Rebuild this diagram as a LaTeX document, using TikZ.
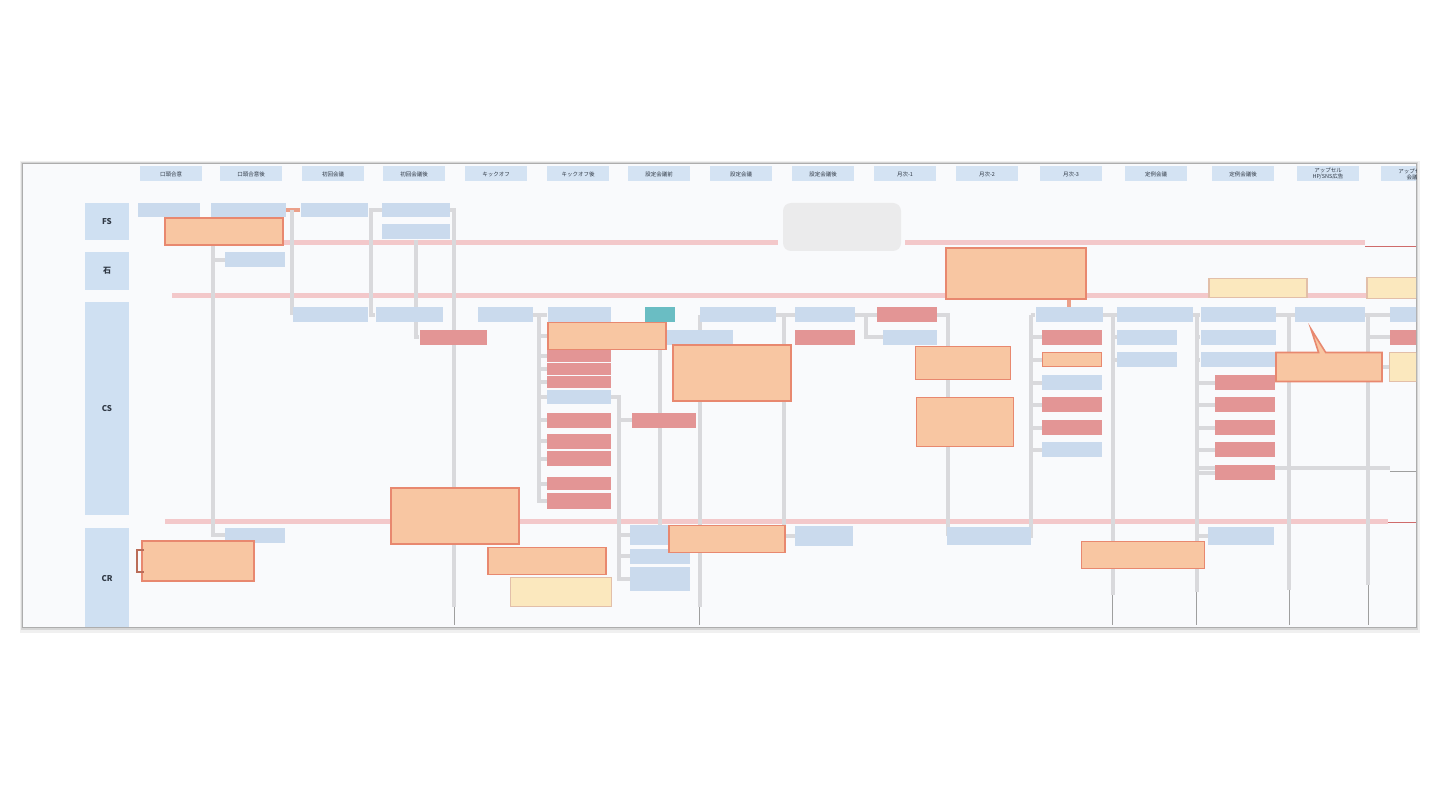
\documentclass[tikz,border=0pt]{standalone}
\usepackage{fontspec}
\usepackage{tikz}
\usetikzlibrary{calc, shapes.callouts}
\newfontfamily\jpfont{Noto Sans CJK JP}
\definecolor{pagebg}{HTML}{F9FAFC}
\definecolor{hdrfill}{HTML}{D4E3F3}
\definecolor{lanefill}{HTML}{CFE0F2}
\definecolor{taskfill}{HTML}{CADAED}
\definecolor{redfill}{HTML}{E39595}
\definecolor{notefill}{HTML}{F8C6A2}
\definecolor{noteline}{HTML}{E8886F}
\definecolor{memofill}{HTML}{FBE8BE}
\definecolor{memoline}{HTML}{E2BFA9}
\definecolor{tealfill}{HTML}{6ABDC3}
\definecolor{pinkline}{HTML}{F3C8CA}
\definecolor{darkred}{HTML}{CF6B6B}
\definecolor{tline}{HTML}{D9D9DC}
\definecolor{rline}{HTML}{EBA08A}
\definecolor{cloudfill}{HTML}{EBEBEC}
\definecolor{hdrtext}{HTML}{2F3844}
\pgfdeclarelayer{back}
\pgfdeclarelayer{wires}
\pgfsetlayers{back,wires,main}
\tikzset{
  hdr/.style     = {rectangle, fill=hdrfill, minimum width=62, minimum height=15, inner sep=0pt,
                    align=center, font=\jpfont\fontsize{5.5}{6}\selectfont, text=hdrtext},
  lane/.style    = {rectangle, fill=lanefill, minimum width=44, inner sep=0pt,
                    font=\jpfont\bfseries\fontsize{8}{9}\selectfont, text=hdrtext},
  task/.style    = {rectangle, fill=taskfill, minimum height=15, inner sep=0pt},
  redtask/.style = {rectangle, fill=redfill, minimum height=15, inner sep=0pt},
  tealtask/.style= {rectangle, fill=tealfill, minimum height=15, inner sep=0pt},
  note/.style    = {rectangle, fill=notefill, draw=noteline, line width=1.6pt, inner sep=0pt,
                    minimum height=15},
  memo/.style    = {rectangle, fill=memofill, draw=memoline, line width=1.4pt, inner sep=0pt},
  tl/.style      = {draw=tline, line width=4pt},
  rtl/.style     = {draw=rline, line width=4pt},
  tlend/.style   = {draw=gray!75, line width=0.8pt},
  sep/.style     = {draw=pinkline, line width=5pt},
  septhin/.style = {draw=darkred, line width=0.8pt},
}

\begin{document}
\begin{tikzpicture}[x=1pt, y=-1pt]
\useasboundingbox (0,0) rectangle (1440,810);
\begin{pgfonlayer}{back}
  \fill[black!6] (20,161) rectangle (1420,633);
  \fill[black!16] (21,162) rectangle (1418,630);
  \fill[black!32] (22,163) rectangle (1417,628);
  \fill[pagebg] (23,164) rectangle (1416,626.5);
\end{pgfonlayer}

\begin{scope}
\clip (23,164) rectangle (1416,626);
\foreach \i/\x/\t in {1/171/口頭合意, 2/251/口頭合意後, 3/333/初回会議, 4/414/初回会議後,
                      5/496/キックオフ, 6/578/キックオフ後, 7/659/設定会議前, 8/741/設定会議,
                      9/823/設定会議後, 10/905/月次-1, 11/987/月次-2, 12/1071/月次-3,
                      13/1156/定例会議, 14/1243/定例会議後}{
  \node[hdr] (h\i) at (\x,174) {\t};
}
\node[hdr] (h15) at (1328,174) {アップセル\\HP/SNS広告};
\node[hdr] (h16) at (1412,174) {アップセル\\会議};

\node[lane, minimum height=37]  (fs) at (107,221.5) {FS};
\node[lane, minimum height=38]  (is) at (107,271) {石};
\node[lane, minimum height=213] (cs) at (107,408.5) {CS};
\node[lane, minimum height=102] (cr) at (107,579) {CR};

% FS
\node[task, minimum width=62, minimum height=14] (fs1) at (169,210) {};
\node[task, minimum width=75, minimum height=14] (fs2) at (248,210) {};
\node[note, minimum width=118, minimum height=27] (fsn) at (224,231.5) {};
\node[task, minimum width=67, minimum height=14] (fs3) at (334,210) {};
\node[task, minimum width=68, minimum height=14] (fs4) at (416,210) {};
\node[task, minimum width=68] (fs5) at (416,232) {};
\node[fill=cloudfill, rounded corners=8, minimum width=118, minimum height=48] (fsc) at (842,227) {};

% 石
\node[task, minimum width=60] (i1) at (255,260) {};
\node[note, minimum width=140, minimum height=51] (ibig) at (1016,273.5) {};
\node[memo, minimum width=98, minimum height=19] (imemo1) at (1258,288) {};
\node[memo, minimum width=60, minimum height=21] (imemo2) at (1397,288) {};

% CS
\node[task, minimum width=75] (c1) at (330,314.5) {};
\node[task, minimum width=67] (c2) at (409,314.5) {};
\node[task, minimum width=55] (c3) at (505,314.5) {};
\node[task, minimum width=63] (c4) at (579,314.5) {};
\node[tealtask, minimum width=30] (c5) at (660,314.5) {};
\node[task, minimum width=76] (c6) at (738,314.5) {};
\node[task, minimum width=60] (c7) at (825,314.5) {};
\node[redtask, minimum width=60] (c8) at (907,314.5) {};
\node[task, minimum width=67] (c9) at (1069,314.5) {};
\node[task, minimum width=76] (c10) at (1155,314.5) {};
\node[task, minimum width=75] (c11) at (1238,314.5) {};
\node[task, minimum width=70] (c12) at (1330,314.5) {};
\node[task, minimum width=40] (c13) at (1410,314.5) {};

\node[redtask, minimum width=67] (c14) at (453,337) {};
\node[note, minimum width=118, minimum height=27] (cn1) at (607,336) {};
\node[task, minimum width=66] (c15) at (700,337) {};
\node[redtask, minimum width=60] (c16) at (825,337) {};
\node[task, minimum width=54] (c17) at (910,337) {};
\node[redtask, minimum width=60] (c18) at (1072,337) {};
\node[task, minimum width=60] (c19) at (1147,337) {};
\node[task, minimum width=75] (c20) at (1238,337) {};
\node[redtask, minimum width=40] (c21) at (1410,337) {};

\node[redtask, minimum width=64, minimum height=12] (k1) at (579,356) {};
\node[redtask, minimum width=64, minimum height=12] (k2) at (579,369) {};
\node[redtask, minimum width=64, minimum height=12] (k3) at (579,382) {};
\node[task, minimum width=64, minimum height=14] (k4) at (579,397) {};
\node[redtask, minimum width=64] (k5) at (579,420) {};
\node[redtask, minimum width=64] (k6) at (579,441) {};
\node[redtask, minimum width=64] (k7) at (579,458.5) {};
\node[redtask, minimum width=64, minimum height=13] (k8) at (579,483.5) {};
\node[redtask, minimum width=64, minimum height=16] (k9) at (579,501) {};
\node[redtask, minimum width=64] (c22) at (664,420) {};
\node[note, minimum width=118, minimum height=56] (cn2) at (732,373) {};
\node[note, minimum width=95, minimum height=33] (cn3) at (963,363) {};
\node[note, minimum width=97, minimum height=49] (cn4) at (965,422) {};

\node[note, minimum width=59, minimum height=14] (m1) at (1072,359.5) {};
\node[task, minimum width=60] (m2) at (1072,382.5) {};
\node[redtask, minimum width=60] (m3) at (1072,404.5) {};
\node[redtask, minimum width=60] (m4) at (1072,427.5) {};
\node[task, minimum width=60] (m5) at (1072,449.5) {};
\node[task, minimum width=60] (n1) at (1147,359.5) {};
\node[task, minimum width=75] (p1) at (1238,359.5) {};
\foreach \j/\y in {1/382.5, 2/404.5, 3/427.5, 4/449.5, 5/472.5}{
  \node[redtask, minimum width=60] (q\j) at (1245,\y) {};
}
\node[note, rectangle callout, callout absolute pointer={(1311,329)},
      minimum width=106, minimum height=29] (cn5) at (1329,367) {};
\node[memo, minimum width=45, minimum height=29] (cmemo) at (1412,367) {};

% CS / CR
\node[note, minimum width=128, minimum height=56] (cn6) at (455,516) {};
\node[note, minimum width=118, minimum height=27] (cn7) at (547,561) {};
\node[memo, minimum width=101, minimum height=29] (cn8) at (561,592) {};

% CR
\node[task, minimum width=60] (r1) at (255,535) {};
\node[note, minimum width=112, minimum height=40] (rn1) at (198,561) {};
\draw[draw=noteline!80!black, line width=1.5pt] ($(rn1.west)+(3,-11)$) -- ($(rn1.west)+(-4,-11)$)
  -- ($(rn1.west)+(-4,11)$) -- ($(rn1.west)+(3,11)$);
\node[task, minimum width=60, minimum height=20] (r2) at (660,535) {};
\node[task, minimum width=60] (r3) at (660,556) {};
\node[task, minimum width=60, minimum height=24] (r4) at (660,579) {};
\node[note, minimum width=116, minimum height=27] (rn2) at (727,539) {};
\node[task, minimum width=58, minimum height=20] (r5) at (824,536) {};
\node[task, minimum width=84, minimum height=18] (r6) at (989,536) {};
\node[note, minimum width=123, minimum height=27] (rn3) at (1143,555) {};
\node[task, minimum width=66, minimum height=18] (r7) at (1241,536) {};
\end{scope}

\begin{pgfonlayer}{wires}
\begin{scope}
\clip (23,164) rectangle (1416,626);
\coordinate (bot) at (0,625);
\draw[sep] (165,243) -- (778,243);
\draw[sep] (905,243) -- (1365,243);
\draw[septhin] (1365,246) -- (1416,246);
\draw[sep] (172,296) -- (1416,296);
\draw[sep] (165,521) -- (1388,521);
\draw[septhin] (1388,522.5) -- (1416,522.5);

\draw[tl] ([xshift=3]fs2.south west) |- (i1.west);
\draw[tl] ([xshift=3]fs2.south west) |- (r1.west);
\draw[rtl] (fs2.east) -- (fs3.west);
\draw[tl] (fs3.west -| c1.west) -- (c1.west);
\draw[tl] (fs4.west) -- ++(-11,0) |- (c2.west);
\draw[tl] (fs5.south) |- (c14.west);
\draw[tl] (fs4.east) -- ++(4,0) -- ++(0,397) coordinate (e1);

\draw[tl] (c3.east) -- (c4.west);
\coordinate (k0) at ($(c3.east)!0.4!(c4.west)$);
\foreach \n in {cn1,k1,k2,k3,k4,k5,k6,k7,k8,k9}{\draw[tl] (k0) |- (\n.west);}
\draw[tl] (k4.east) -- ++(8,0) coordinate (k4r) |- (r4.west);
\foreach \n in {c22,r2,r3}{\draw[tl] (k4r) |- (\n.west);}
\draw[tl] (c5.south) -- (r2.north);

\draw[tl] (c6.west) -- ++(0,292.5) coordinate (e2);
\draw[tl] (c6.east) -- (c7.west);
\draw[tl] ($(c6.east)!0.4!(c7.west)$) |- (r5.west);
\draw[tl] (c7.east) -- (c8.west);
\draw[tl] ($(c7.east)!0.5!(c8.west)$) |- (c17.west);
\draw[tl] (c8.east) -- ++(11,0) |- (r6.west);

\draw[rtl] (ibig.south -| c9.north) -- (c9.north);
\coordinate (j0) at ([xshift=-4]c9.west);
\draw[tl] (j0) -- (c9.west);
\draw[tl] (j0) |- (r6.east);
\foreach \n in {c18,m1,m2,m3,m4,m5}{\draw[tl] (j0) |- (\n.west);}

\draw[tl] (c9.east) -- (c10.west);
\coordinate (j1) at ($(c9.east)!0.7!(c10.west)$);
\draw[tl] (j1) -- ++(0,280.5) coordinate (e3);
\foreach \n in {c19,n1}{\draw[tl] (j1) |- (\n.west);}

\draw[tl] (c10.east) -- (c11.west);
\coordinate (j2) at ($(c10.east)!0.5!(c11.west)$);
\draw[tl] (j2) -- ++(0,277.5) coordinate (e4);
\foreach \n in {c20,p1,q1,q2,q3,q4,q5,r7}{\draw[tl] (j2) |- (\n.west);}
\coordinate (h1) at (1390,468);
\draw[tl] (j2 |- h1) -- (h1);
\draw[draw=gray!75, line width=1pt] ([yshift=-3]h1) -- ++(26,0);

\draw[tl] (c11.east) -- (c12.west);
\coordinate (j3) at ($(c11.east)!0.7!(c12.west)$);
\draw[tl] (j3) -- ++(0,275.5) coordinate (e5);

\draw[tl] (c12.east) -- (c13.west);
\coordinate (j4) at ([xshift=3]c12.east);
\draw[tl] (j4) -- ++(0,270.5) coordinate (e6);
\foreach \n in {c21,cmemo}{\draw[tl] (j4) |- (\n.west);}

\foreach \e in {e1,e2,e3,e4,e5,e6}{\draw[tlend] (\e) -- (\e |- bot);}
\end{scope}
\end{pgfonlayer}
\end{tikzpicture}
\end{document}
